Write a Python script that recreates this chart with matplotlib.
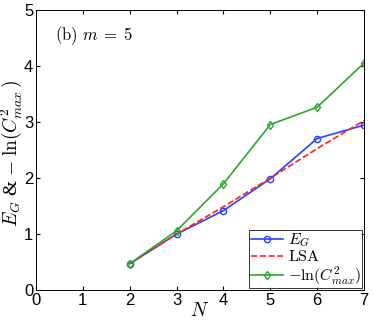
import matplotlib
matplotlib.use("Agg")
import matplotlib.pyplot as plt

N = [2, 3, 4, 5, 6, 7]
E_G = [0.47, 1.00, 1.42, 1.99, 2.71, 2.95]
LSA = [0.47, 1.00, 1.49, 2.00, 2.53, 3.03]
neg_ln_C = [0.47, 1.06, 1.90, 2.96, 3.27, 4.06]
xticks = [0, 1, 2, 3, 4, 5, 6, 7]
yticks = [0, 1, 2, 3, 4, 5]

plt.rcParams['mathtext.fontset'] = 'cm'
plt.rcParams['font.family'] = 'Liberation Sans'

fig = plt.figure(figsize=(3.74, 3.25), dpi=100)
ax = fig.add_axes([0.0963, 0.1077, 0.8770, 0.860])

blue = '#2b3fff'
green = '#2aa82a'
ax.plot(N, E_G, '-o', color=blue, lw=1.2, ms=4.5, mfc='none', mew=1.0, label=r'$E_G$')
ax.plot(N, LSA, '--', color='#ff2020', lw=1.2, label=r'$\mathrm{LSA}$')
ax.plot(N, neg_ln_C, '-d', color=green, lw=1.2, ms=4.5, mfc='none', mew=1.0, label=r'$-\ln(C^2_{max})$')

ax.set_xlim(0, 7)
ax.set_ylim(0, 5)
ax.set_xticks(xticks)
ax.set_yticks(yticks)
ax.tick_params(direction='in', top=True, right=True, labelsize=12, length=3, pad=2)
for s in ax.spines.values():
    s.set_linewidth(0.7)

ax.set_xlabel(r'$N$', fontsize=14, labelpad=-4)
ax.set_ylabel(r'$E_G$ & $-\;\ln(C^2_{max}\,)$', fontsize=14,
              family='Liberation Serif')
ax.yaxis.set_label_coords(-0.036, 0.49)
ax.text(0.4, 4.47, r'$\mathrm{(b)}\ m\;=\;5$', fontsize=12)

leg = ax.legend(loc='lower right', fontsize=11.5, frameon=True, fancybox=False,
                edgecolor='black', borderpad=0.1, labelspacing=0.0,
                handlelength=2.0, handletextpad=0.3, borderaxespad=0.1)
leg.get_frame().set_linewidth(0.7)

fig.savefig('out.png', dpi=100)
